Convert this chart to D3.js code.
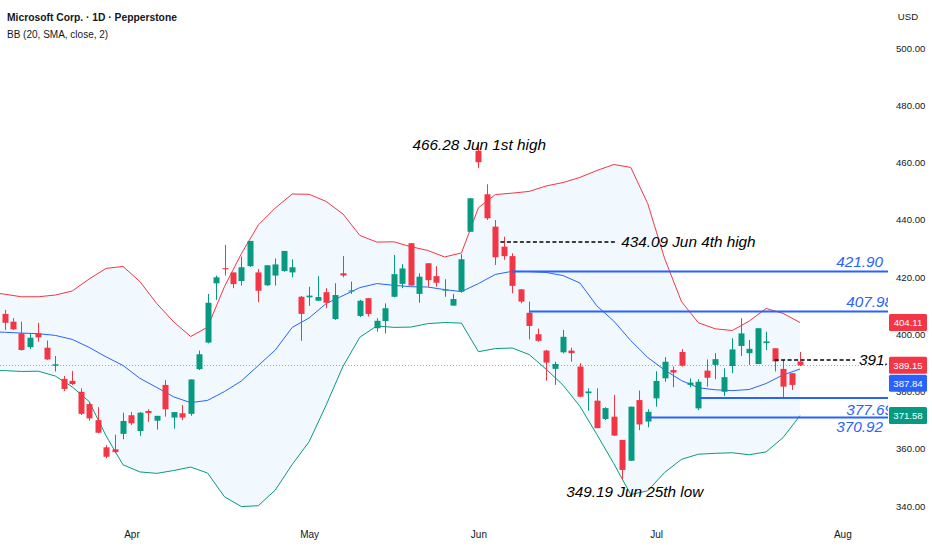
<!DOCTYPE html>
<meta charset="utf-8">
<head>
    <title>MSFT 1D</title>
    <style>
        body { margin: 0; background: #fff; }
        text { font-family: "Liberation Sans", Arial, sans-serif; }
    </style>
</head>

<script src="https://d3js.org/d3.v7.min.js"></script>

<div id="dataVis"></div>

<script>

    // daily candles, index 0 = first bar on screen
    var opens = [407.1,404.4,400.3,395.5,400.3,395.3,389.0,384.4,383.7,379.9,
        375.6,370.0,360.5,359.8,365.2,371.7,366.2,373.2,369.8,382.3,
        370.9,372.4,372.2,387.8,397.1,417.8,423.1,421.6,418.6,423.8,
        421.6,417.1,420.5,422.1,421.6,413.1,412.9,411.7,414.7,405.3,
        421.3,415.0,406.4,412.6,402.1,404.6,413.1,417.6,431.8,414.1,
        424.8,420.3,415.5,410.0,414.9,435.8,464.1,448.9,437.6,430.6,
        427.3,415.7,407.5,400.0,394.3,387.9,393.7,394.3,388.7,379.4,
        376.8,370.4,371.2,363.1,355.8,377.0,369.5,377.6,384.6,387.5,
        393.8,382.3,374.1,387.3,389.3,379.9,388.9,395.9,393.4,389.6,
        396.9,395.1,387.9,386.4,390.5];
    var highs = [408.5,405.6,404.4,400.3,404.0,397.8,392.4,385.4,387.2,381.1,
        376.4,374.5,361.3,364.9,372.6,372.8,372.8,373.8,371.5,384.0,
        372.8,375.3,384.2,394.3,414.1,420.5,431.2,421.6,427.1,432.6,
        422.8,424.1,426.5,429.1,426.2,413.4,416.6,420.3,416.1,417.8,
        427.3,418.4,412.0,412.6,405.6,410.8,427.7,424.5,431.8,421.3,
        424.8,423.8,419.2,414.1,428.0,447.5,466.28,452.4,439.9,434.09,
        428.3,415.7,411.4,402.0,394.5,390.4,401.5,395.3,389.9,381.1,
        381.1,374.5,378.8,363.1,374.7,380.3,373.8,387.1,392.0,388.7,
        394.8,384.6,384.3,391.2,393.4,388.1,398.6,405.6,398.0,402.1,
        400.9,395.1,391.0,386.4,393.8];
    var lows = [401.5,401.5,394.3,394.8,397.4,391.0,387.0,380.2,382.3,371.8,
        369.8,365.4,356.7,358.4,363.3,368.3,364.5,369.4,366.7,371.2,
        367.0,370.0,371.5,387.5,396.8,412.0,420.5,416.1,417.0,423.5,
        411.2,416.9,417.0,421.8,419.9,397.7,409.9,411.7,409.1,405.0,
        419.9,414.1,406.0,406.2,400.9,400.3,412.9,416.1,417.0,411.0,
        416.6,416.6,413.1,410.0,414.5,435.8,458.0,439.9,424.2,426.0,
        414.3,410.8,398.2,397.4,383.8,382.3,393.3,390.4,378.0,373.3,
        367.2,370.0,364.5,349.19,355.8,366.5,367.5,374.7,383.4,381.5,
        388.7,381.5,373.5,381.7,384.3,378.4,386.4,392.4,389.3,389.6,
        394.5,387.0,377.6,380.5,388.9];
    var closes = [404.0,401.7,394.5,398.8,398.9,391.2,389.5,380.9,382.6,372.2,
        370.6,365.6,357.2,358.8,369.7,368.9,372.6,372.5,371.5,373.8,
        372.8,370.9,384.2,393.0,411.0,419.9,422.7,417.5,423.4,432.6,
        415.2,424.1,424.4,429.1,423.4,407.1,413.5,413.0,411.0,413.7,
        420.5,415.3,411.7,407.1,404.7,409.1,421.0,423.0,417.0,420.1,
        418.9,418.0,415.6,412.3,426.2,447.5,460.1,440.5,426.9,427.3,
        416.9,411.4,402.9,397.7,390.1,389.6,399.1,393.4,378.2,380.0,
        367.2,374.2,364.6,352.6,374.7,368.5,372.9,383.7,390.4,386.6,
        389.0,383.1,383.4,384.8,391.3,385.0,394.7,400.3,394.9,402.1,
        397.5,390.5,381.7,382.3,389.15];

    // Bollinger bands (20, SMA, close, 2) at these bars
    var bbIndex = [-1,0,2,4,6,8,10,12,14,16,18,20,22,24,26,28,30,32,34,36,38,40,42,44,46,
        48,50,52,54,56,58,60,62,64,66,68,70,72,74,76,78,80,82,84,86,88,90,92,94];
    var bbUpper = [414.4,414.0,413.1,413.1,413.7,415.1,419.3,423.0,423.7,418.4,
        410.7,404.3,399.2,402.5,416.7,428.2,438.2,444.1,449.0,448.9,
        446.4,442.0,434.5,432.2,432.3,430.6,429.3,427.0,428.4,444.2,
        448.8,449.3,449.9,451.8,453.0,454.8,457.2,459.3,458.3,445.7,
        426.5,411.4,404.0,401.9,401.3,404.6,409.0,407.3,404.11];
    var bbBasis = [400.8,400.7,400.4,400.2,399.6,398.2,395.4,392.1,389.1,384.6,
        381.4,378.1,376.1,376.9,380.0,383.7,389.1,394.5,402.4,405.7,
        410.7,413.5,416.3,417.7,417.1,416.6,416.5,415.6,414.9,417.7,
        420.9,422.0,421.9,421.6,420.5,417.9,409.9,404.6,397.8,391.9,
        387.5,383.8,381.3,380.6,380.3,380.7,382.8,385.8,387.84];
    var bbLower = [387.3,387.3,387.0,387.1,385.4,381.6,376.5,364.5,354.4,351.9,
        351.4,352.4,353.6,351.5,343.2,339.8,340.1,345.6,354.5,362.5,
        375.2,388.8,399.0,402.9,402.4,402.5,403.7,404.1,403.9,393.9,
        395.0,395.2,392.9,387.8,382.2,374.8,365.0,354.8,344.0,345.3,
        351.7,356.3,358.1,358.4,358.6,357.9,358.9,363.9,371.58];

    // axis ticks
    var monthTicks = [15, 36, 56, 77, 99];
    var monthLabels = ["Apr", "May", "Jun", "Jul", "Aug"];
    var priceTicks = [340, 360, 380, 400, 420, 440, 460, 480, 500];

    // drawn levels
    var levelPrices = [421.90, 407.98, 377.69, 370.92];
    var levelFrom = [60, 62, 82, 76];
    var levelLabels = ["421.90", "407.98", "377.69", "370.92"];

    var dashPrices = [432.2, 391.0];
    var dashFrom = [58.6, 91];
    var dashTo = [72.4, 100.5];
    var dashLabels = ["434.09 Jun 4th high", "391."];

    var noteBars = [56, 73];
    var notePrices = [466.28, 349.19];
    var noteLabels = ["466.28 Jun 1st high", "349.19 Jun 25th low"];

    var tagPrices = [404.11, 389.15, 387.84, 371.58];
    var tagColors = ["#f23645", "#f23645", "#2962ff", "#089981"];

    var width = 932, height = 550, plotW = 888, plotH = 520;
    var upColor = "#089981", downColor = "#f23645", blue = "#2962ff";

    var svg = d3.select("#dataVis")
        .append("svg")
        .attr("width", width)
        .attr("height", height)
        .style("display", "block");

    var x = d3.scaleLinear().domain([-0.532, 104.4]).range([0, plotW]);
    var y = d3.scaleLinear().domain([340, 500]).range([506, 48]);

    svg.append("clipPath").attr("id", "plotClip")
        .append("rect").attr("width", plotW).attr("height", plotH);

    var plot = svg.append("g").attr("clip-path", "url(#plotClip)");

    var bars = d3.range(opens.length).map(function (i) {
        return { i: i, o: opens[i], h: highs[i], l: lows[i], c: closes[i] };
    });
    var bands = bbIndex.map(function (d, k) {
        return { i: d, up: bbUpper[k], mid: bbBasis[k], lo: bbLower[k] };
    });

    // band fill + lines
    plot.append("path")
        .datum(bands)
        .attr("fill", "rgba(33,150,243,0.06)")
        .attr("d", d3.area()
            .x(function (d) { return x(d.i); })
            .y0(function (d) { return y(d.lo); })
            .y1(function (d) { return y(d.up); }));

    [["up", "#f23645"], ["mid", blue], ["lo", upColor]].forEach(function (s) {
        plot.append("path")
            .datum(bands)
            .attr("fill", "none")
            .attr("stroke", s[1])
            .attr("stroke-width", 1)
            .attr("d", d3.line()
                .x(function (d) { return x(d.i); })
                .y(function (d) { return y(d[s[0]]); }));
    });

    // last price dotted line
    plot.append("line")
        .attr("x1", 0).attr("x2", plotW)
        .attr("y1", Math.round(y(closes[closes.length - 1])) + 0.5)
        .attr("y2", Math.round(y(closes[closes.length - 1])) + 0.5)
        .attr("stroke", "#f23645")
        .attr("stroke-opacity", 0.6)
        .attr("stroke-dasharray", "1,2");

    // candles
    var candle = plot.append("g").selectAll("g")
        .data(bars)
        .enter()
        .append("g");

    candle.append("line")
        .attr("x1", function (d) { return Math.round(x(d.i)) + 0.5; })
        .attr("x2", function (d) { return Math.round(x(d.i)) + 0.5; })
        .attr("y1", function (d) { return y(d.h); })
        .attr("y2", function (d) { return y(d.l); })
        .attr("stroke", function (d) { return d.c >= d.o ? upColor : downColor; })
        .attr("stroke-width", 1);

    candle.append("rect")
        .attr("x", function (d) { return Math.round(x(d.i)) - 2.5; })
        .attr("width", 6)
        .attr("y", function (d) { return y(Math.max(d.o, d.c)); })
        .attr("height", function (d) { return Math.max(1, Math.abs(y(d.o) - y(d.c))); })
        .attr("fill", function (d) { return d.c >= d.o ? upColor : downColor; });

    // horizontal levels
    levelPrices.forEach(function (p, k) {
        plot.append("line")
            .attr("x1", x(levelFrom[k])).attr("x2", plotW)
            .attr("y1", y(p)).attr("y2", y(p))
            .attr("stroke", blue)
            .attr("stroke-width", 2);
    });
    var labelEnd = [883, 893, 893, 883];
    var labelDy = [-5, -4, 17, 15];
    levelLabels.forEach(function (t, k) {
        plot.append("text")
            .attr("x", labelEnd[k])
            .attr("y", y(levelPrices[k]) + labelDy[k])
            .attr("text-anchor", "end")
            .attr("font-style", "italic")
            .attr("font-size", "15.3px")
            .attr("fill", blue)
            .text(t);
    });

    // dashed levels with notes
    dashPrices.forEach(function (p, k) {
        plot.append("line")
            .attr("x1", x(dashFrom[k])).attr("x2", x(dashTo[k]))
            .attr("y1", y(p)).attr("y2", y(p))
            .attr("stroke", "#000")
            .attr("stroke-width", 1.5)
            .attr("stroke-dasharray", "4,2.5");
        plot.append("text")
            .attr("x", x(dashTo[k]) + 4)
            .attr("y", y(p) + 5)
            .attr("font-style", "italic")
            .attr("font-size", "15.3px")
            .attr("fill", "#000")
            .text(dashLabels[k]);
    });

    var noteDx = [-66, -56], noteDy = [5, 17.6];
    noteLabels.forEach(function (t, k) {
        plot.append("text")
            .attr("x", x(noteBars[k]) + noteDx[k])
            .attr("y", y(notePrices[k]) + noteDy[k])
            .attr("font-style", "italic")
            .attr("font-size", "15.3px")
            .attr("fill", "#000")
            .text(t);
    });

    // price axis
    var yAxis = svg.append("g")
        .attr("transform", "translate(" + plotW + ",0)")
        .call(d3.axisRight(y).tickValues(priceTicks).tickFormat(d3.format(".2f")).tickSize(0).tickPadding(8));
    yAxis.select(".domain").remove();
    yAxis.selectAll("text")
        .style("font-family", "'Liberation Sans', Arial, sans-serif")
        .style("font-size", "9.6px")
        .attr("fill", "#131722");

    // price tags on the axis
    var tagY = [];
    tagPrices.forEach(function (p, k) {
        var cy = y(p);
        if (k > 0 && cy - tagY[k - 1] < 17) cy = tagY[k - 1] + 18;
        tagY.push(cy);
        svg.append("rect")
            .attr("x", plotW + 1).attr("y", cy - 8.5)
            .attr("width", 38).attr("height", 17)
            .attr("rx", 1.5)
            .attr("fill", tagColors[k]);
        svg.append("text")
            .attr("x", plotW + 20).attr("y", cy + 3.5)
            .attr("text-anchor", "middle")
            .attr("font-size", "9.6px")
            .attr("fill", "#fff")
            .text(d3.format(".2f")(p));
    });

    svg.append("text")
        .attr("x", 908).attr("y", 20)
        .attr("text-anchor", "middle")
        .attr("font-size", "9.6px")
        .attr("fill", "#131722")
        .text("USD");

    // time axis
    var xAxis = svg.append("g")
        .attr("transform", "translate(0," + 528 + ")")
        .call(d3.axisBottom(x).tickValues(monthTicks)
            .tickFormat(function (d, i) { return monthLabels[i]; })
            .tickSize(0).tickPadding(3));
    xAxis.select(".domain").remove();
    xAxis.selectAll("text")
        .style("font-family", "'Liberation Sans', Arial, sans-serif")
        .style("font-size", "10px")
        .attr("fill", "#131722");

    // header
    svg.append("text")
        .attr("x", 7).attr("y", 20.5)
        .attr("font-size", "10.3px")
        .attr("font-weight", "bold")
        .attr("fill", "#131722")
        .text("Microsoft Corp. \u00b7 1D \u00b7 Pepperstone");
    svg.append("text")
        .attr("x", 7).attr("y", 37.5)
        .attr("font-size", "10px")
        .attr("fill", "#131722")
        .text("BB (20, SMA, close, 2)");

</script>
